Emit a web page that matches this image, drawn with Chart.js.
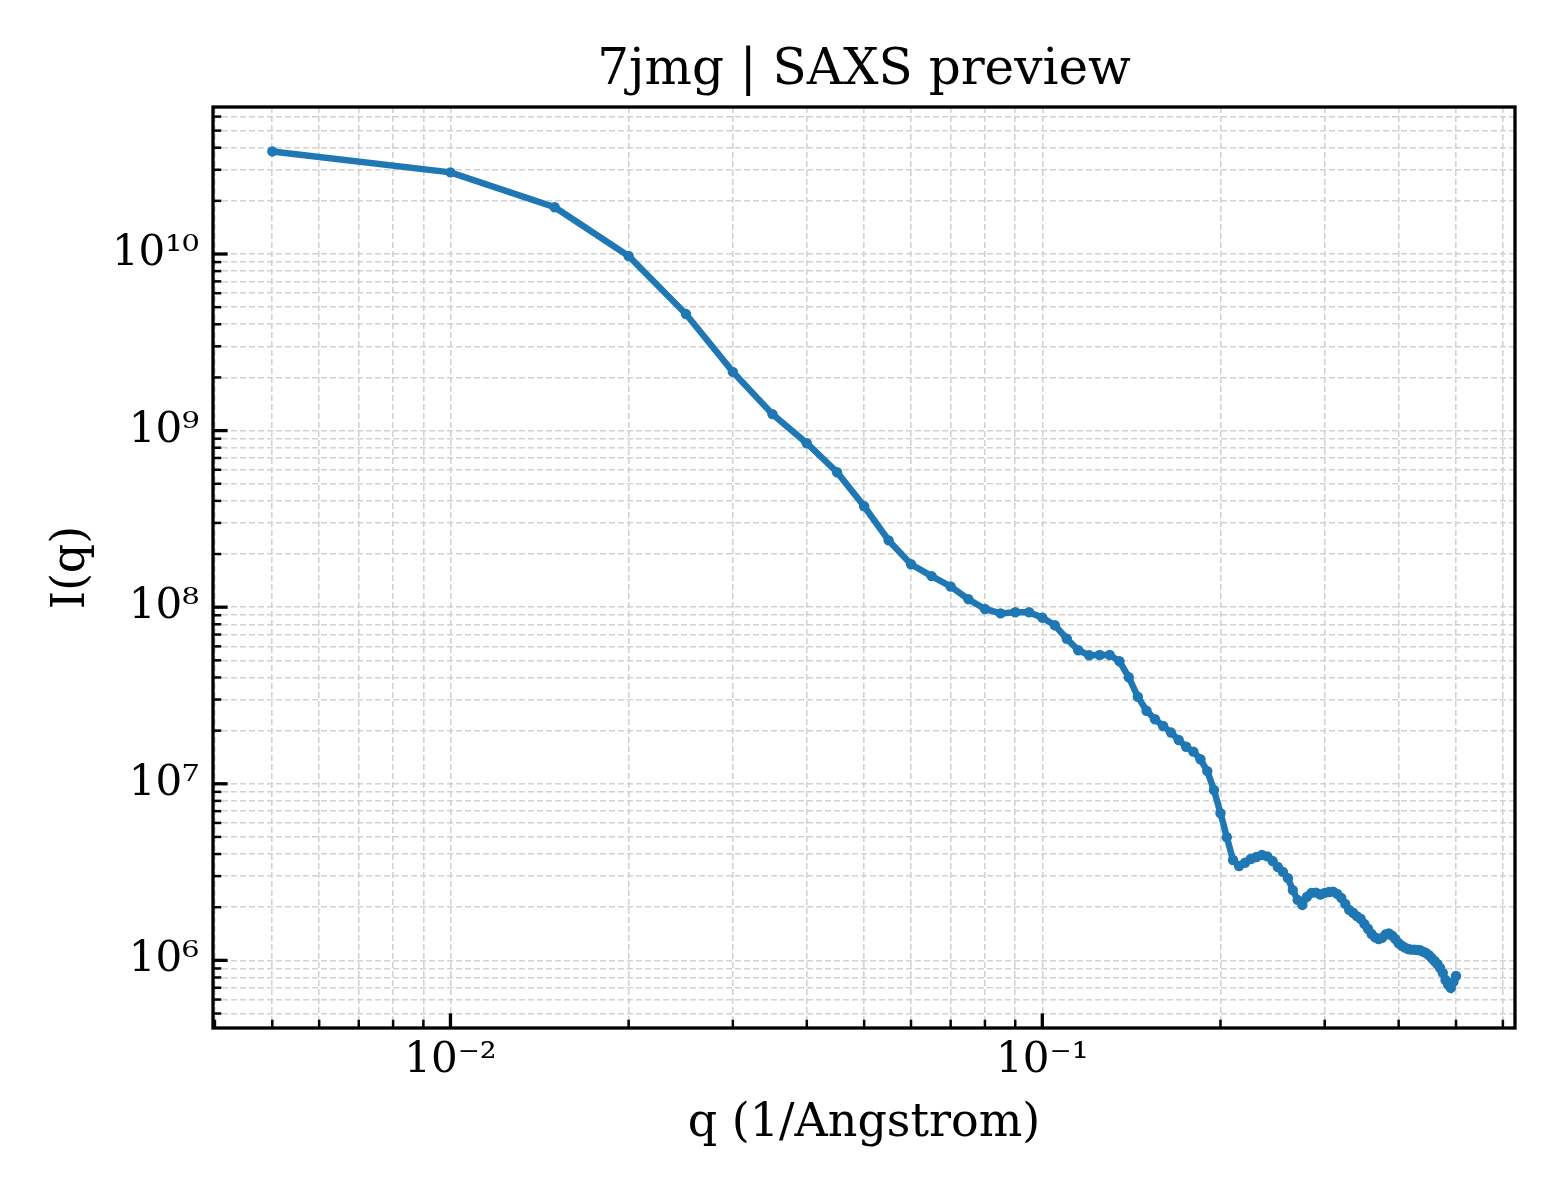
<!DOCTYPE html>
<html><head><meta charset="utf-8">
<script src="https://cdn.jsdelivr.net/npm/chart.js@4.4.1/dist/chart.umd.min.js"></script>
<style>html,body{margin:0;padding:0;background:#fff;}canvas{display:block;}</style>
</head><body>
<canvas id="c" width="1560" height="1200"></canvas>
<script>
const qValues = [0.005,0.01,0.015,0.02,0.025,0.03,0.035,0.04,0.045,0.05,
0.055,0.06,0.065,0.07,0.075,0.08,0.085,0.09,0.095,0.1,
0.105,0.11,0.115,0.12,0.125,0.13,0.135,0.14,0.145,0.15,
0.155,0.16,0.165,0.17,0.175,0.18,0.185,0.19,0.195,0.2,
0.205,0.21,0.215,0.22,0.225,0.23,0.235,0.24,0.245,0.25,
0.255,0.26,0.265,0.27,0.275,0.28,0.285,0.29,0.295,0.3,
0.305,0.31,0.315,0.32,0.325,0.33,0.335,0.34,0.345,0.35,
0.355,0.36,0.365,0.37,0.375,0.38,0.385,0.39,0.395,0.4,
0.405,0.41,0.415,0.42,0.425,0.43,0.435,0.44,0.445,0.45,
0.455,0.46,0.465,0.47,0.475,0.48,0.485,0.49,0.495,0.5];
const intensity = [3.81e10,2.90e10,1.84e10,9.74e9,4.57e9,2.15e9,1.24e9,8.48e8,5.81e8,3.73e8,
2.39e8,1.75e8,1.50e8,1.31e8,1.11e8,9.77e7,9.22e7,9.36e7,9.36e7,8.72e7,
7.90e7,6.63e7,5.70e7,5.34e7,5.36e7,5.36e7,4.94e7,4.01e7,3.11e7,2.59e7,
2.32e7,2.125e7,1.95e7,1.77e7,1.62e7,1.52e7,1.376e7,1.18e7,9.22e6,6.81e6,
4.98e6,3.70e6,3.42e6,3.57e6,3.75e6,3.85e6,3.95e6,3.88e6,3.65e6,3.38e6,
3.17e6,2.92e6,2.50e6,2.20e6,2.06e6,2.29e6,2.41e6,2.42e6,2.36e6,2.41e6,
2.44e6,2.45e6,2.38e6,2.26e6,2.09e6,1.93e6,1.86e6,1.78e6,1.72e6,1.61e6,
1.51e6,1.41e6,1.35e6,1.32e6,1.34e6,1.40e6,1.42e6,1.38e6,1.32e6,1.25e6,
1.21e6,1.18e6,1.16e6,1.15e6,1.15e6,1.145e6,1.14e6,1.12e6,1.10e6,1.07e6,
1.03e6,9.92e5,9.54e5,9.06e5,8.49e5,7.74e5,7.26e5,6.98e5,7.55e5,8.16e5];
const titleText = '7jmg | SAXS preview';
const xLabel = 'q (1/Angstrom)';
const yLabel = 'I(q)';
const xRange = [0.00397, 0.629];
const yRange = [4.14e5, 6.8e10];

const FONT = 'DejaVu Serif';
const SUP = {'0':'\u2070','1':'\u00B9','2':'\u00B2','3':'\u00B3','4':'\u2074','5':'\u2075','6':'\u2076','7':'\u2077','8':'\u2078','9':'\u2079','-':'\u207B'};
function powLabel(v){
  const e = Math.round(Math.log10(v));
  return '10' + String(e).split('').map(c => SUP[c]).join('');
}
function logTicks(min, max){
  const out = [];
  for (let d = Math.floor(Math.log10(min)); d <= Math.ceil(Math.log10(max)); d++) {
    for (let k = 1; k < 10; k++) {
      const v = parseFloat((k * Math.pow(10, d)).toPrecision(6));
      if (v >= min && v <= max) out.push({value: v, major: k === 1});
    }
  }
  return out;
}

const framePlugin = {
  id: 'frame',
  afterDraw(chart){
    const {ctx, chartArea: a, scales} = chart;
    ctx.save();
    ctx.strokeStyle = '#000';
    ctx.setLineDash([]);
    const draw = (scale, horizontal) => {
      scale.ticks.forEach(t => {
        const p = scale.getPixelForValue(t.value);
        const len = t.major ? 14.6 : 8.3;
        ctx.lineWidth = t.major ? 3.3 : 2.5;
        ctx.beginPath();
        if (horizontal) { ctx.moveTo(p, a.bottom); ctx.lineTo(p, a.bottom - len); }
        else { ctx.moveTo(a.left, p); ctx.lineTo(a.left + len, p); }
        ctx.stroke();
      });
    };
    draw(scales.x, true);
    draw(scales.y, false);
    ctx.lineWidth = 3.3;
    ctx.strokeRect(a.left, a.top, a.right - a.left, a.bottom - a.top);
    ctx.restore();
  }
};

const gridOpts = {color: '#d2d2d2', lineWidth: 1.6, drawTicks: false, tickLength: 0};
const borderOpts = {display: false, dash: [6, 3]};

new Chart(document.getElementById('c'), {
  type: 'line',
  data: {
    datasets: [{
      data: qValues.map((q, i) => ({x: q, y: intensity[i]})),
      borderColor: '#1f77b4',
      backgroundColor: '#1f77b4',
      borderWidth: 6.5,
      pointRadius: 5.2,
      pointBorderWidth: 0,
      pointBackgroundColor: '#1f77b4',
      tension: 0,
      fill: false
    }]
  },
  options: {
    responsive: false,
    devicePixelRatio: 1,
    animation: false,
    layout: {padding: {left: 0, right: 45, top: 0, bottom: 0}},
    plugins: {legend: {display: false}, tooltip: {enabled: false}, title: {display: false}},
    scales: {
      x: {
        type: 'logarithmic', position: 'bottom',
        min: xRange[0], max: xRange[1],
        afterBuildTicks: s => { s.ticks = logTicks(s.min, s.max); },
        afterFit: s => { s.height = 172; },
        grid: gridOpts, border: borderOpts,
        ticks: {autoSkip: false, maxRotation: 0, minRotation: 0, padding: 8, color: '#000',
          font: {family: FONT, size: 42},
          callback: (v, i, t) => t[i] && t[i].major ? powLabel(v) : ''},
        title: {display: true, text: xLabel, color: '#000', font: {family: FONT, size: 46},
          padding: {top: 0, bottom: 48}}
      },
      y: {
        type: 'logarithmic', position: 'left',
        min: yRange[0], max: yRange[1],
        afterBuildTicks: s => { s.ticks = logTicks(s.min, s.max); },
        afterFit: s => { s.width = 213; },
        grid: gridOpts, border: borderOpts,
        ticks: {autoSkip: false, padding: 14, color: '#000',
          font: {family: FONT, size: 42},
          callback: (v, i, t) => t[i] && t[i].major ? powLabel(v) : ''},
        title: {display: true, text: yLabel, color: '#000', font: {family: FONT, size: 46},
          padding: {top: 44, bottom: 0}}
      },
      top: {
        type: 'linear', position: 'top', display: true,
        afterFit: s => { s.height = 107; },
        grid: {display: false, drawTicks: false}, border: {display: false},
        ticks: {display: false},
        title: {display: true, text: titleText, color: '#000', font: {family: FONT, size: 50},
          padding: {top: 41, bottom: 0}}
      }
    }
  },
  plugins: [framePlugin]
});
</script>
</body></html>
